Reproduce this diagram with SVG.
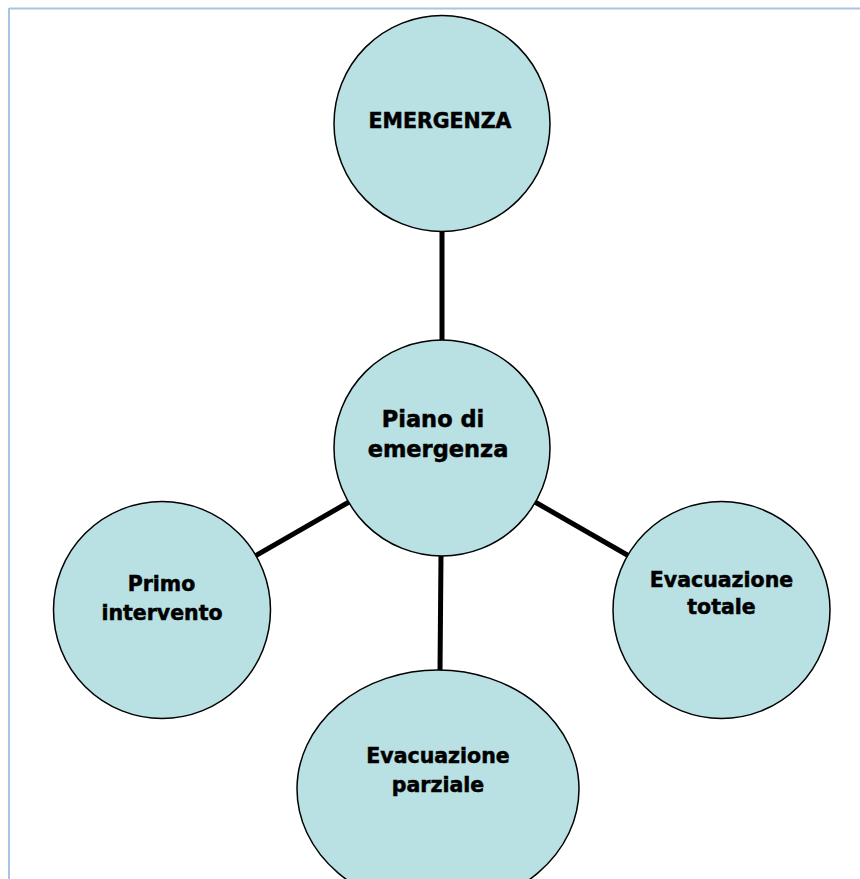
<svg xmlns="http://www.w3.org/2000/svg" width="860" height="879" viewBox="0 0 860 879">
<style>
.node{fill:#b9e0e3;stroke:#000;stroke-width:1.5}
.lbl{font-family:"DejaVu Sans",Verdana,sans-serif;font-weight:bold;font-size:20.5px;fill:#000;stroke:#000;stroke-width:0.5;text-anchor:middle}
.big{font-size:22.5px}
.conn{stroke:#000;stroke-width:5;fill:none}
</style>
<rect width="860" height="879" fill="#fff"/>
<g id="frame">
<line x1="9" y1="8.5" x2="860" y2="8.5" stroke="#a8c3e6" stroke-width="2"/>
<line x1="9" y1="8" x2="9" y2="879" stroke="#a8c3e6" stroke-width="2"/>
</g>
<g id="connectors">
<line class="conn" x1="442" y1="231" x2="442" y2="341"/>
<line class="conn" x1="441" y1="555" x2="440" y2="671"/>
<line class="conn" x1="349" y1="502" x2="255" y2="556"/>
<line class="conn" x1="535" y1="502" x2="629" y2="556"/>
</g>
<g id="emergenza">
<circle class="node" cx="442" cy="123.5" r="108"/>
<text class="lbl" x="440" y="128">EMERGENZA</text>
</g>
<g id="piano">
<circle class="node" cx="442" cy="448" r="108"/>
<text class="lbl big" x="433" y="426.5">Piano di</text>
<text class="lbl big" x="438" y="456.5">emergenza</text>
</g>
<g id="primo">
<circle class="node" cx="162" cy="610" r="108.5"/>
<text class="lbl" x="161.5" y="590.5">Primo</text>
<text class="lbl" x="162" y="620">intervento</text>
</g>
<g id="totale">
<circle class="node" cx="721.5" cy="610" r="108.5"/>
<text class="lbl" x="721.5" y="586.5">Evacuazione</text>
<text class="lbl" x="721.5" y="614">totale</text>
</g>
<g id="parziale">
<ellipse class="node" cx="438" cy="789" rx="141" ry="119"/>
<text class="lbl" x="438" y="763">Evacuazione</text>
<text class="lbl" x="438" y="791.5">parziale</text>
</g>
</svg>
